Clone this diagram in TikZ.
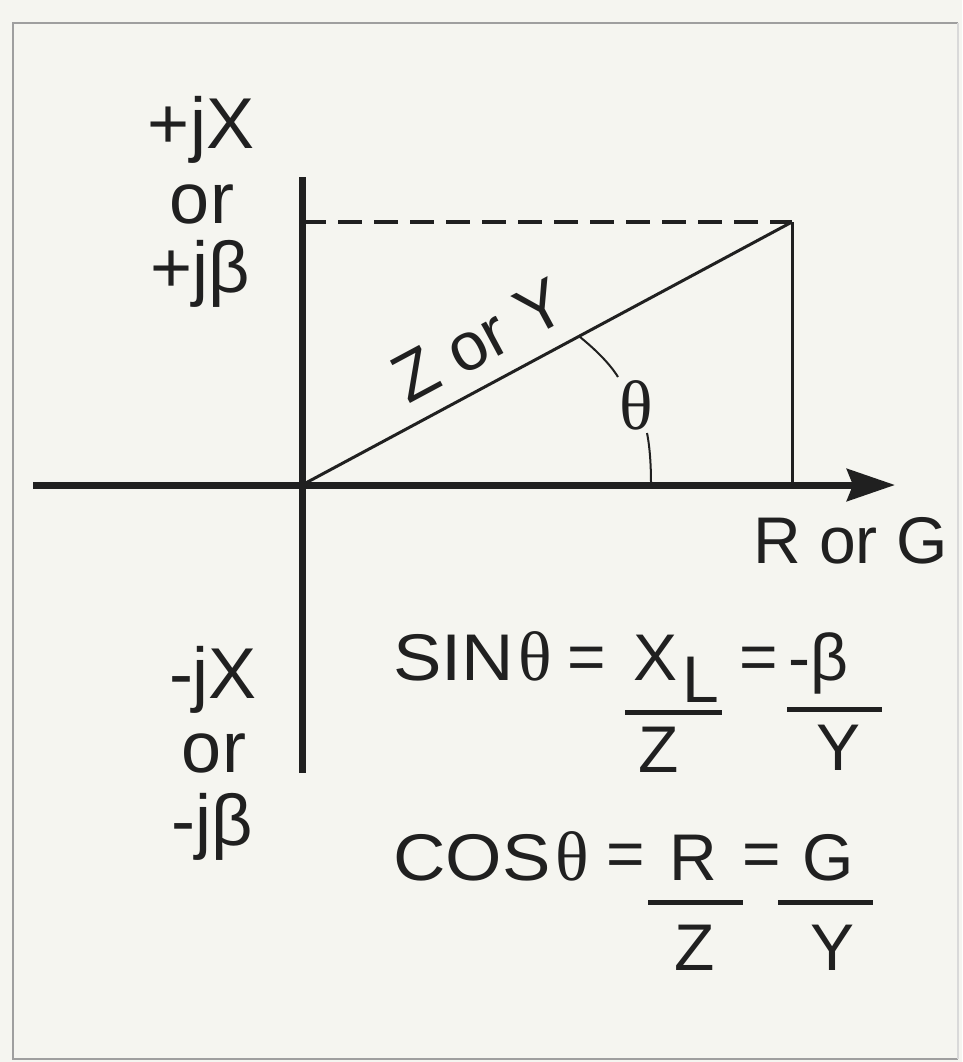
\documentclass[tikz,border=0pt]{standalone}
\usepackage{fontspec}
\setmainfont{Liberation Sans}
\newfontfamily\thetafont{Liberation Serif}
\usetikzlibrary{arrows.meta}
\definecolor{paper}{RGB}{245,245,240}
\definecolor{ink}{RGB}{32,32,32}
\newcommand{\hwide}[1]{\scalebox{1.1}[1.0]{#1}}
\begin{document}
\begin{tikzpicture}[x=1pt,y=-1pt,
  lbl/.style={font=\fontsize{72}{72}\selectfont, text=ink, inner sep=0pt},
  eq/.style={font=\fontsize{66}{66}\selectfont, text=ink, inner sep=0pt},
  eqth/.style={font=\thetafont\fontsize{70}{70}\selectfont, text=ink, inner sep=0pt},
  axisline/.style={draw=ink, line width=7pt},
  thinline/.style={draw=ink, line width=3pt},
  arcline/.style={draw=ink, line width=2pt},
  fracbar/.style={draw=ink, line width=5pt},
]
\useasboundingbox (0,0) rectangle (962,1062);
\fill[paper] (0,0) rectangle (962,1062);
% frame
\draw[gray!75, line width=2.5pt] (958,23) -- (13,23) -- (13,1059) -- (958,1059);
\draw[gray!30, line width=2pt] (958,23) -- (958,1059);

% coordinates
\coordinate (O) at (302,485);
\coordinate (xleft) at (33,485);
\coordinate (xright) at (895,485);
\coordinate (ytop) at (302,177);
\coordinate (ybot) at (302,773);
\coordinate (P) at (792,222);
\coordinate (Px) at (792,485);
\coordinate (Py) at (302,222);

% axes
\draw[axisline] (ytop) -- (ybot);
\draw[axisline, -{Stealth[length=48pt,width=32pt,inset=6pt]}] (xleft) -- (xright);
% rectangle parts
\draw[ink, line width=4pt, dash pattern=on 24pt off 12pt] (Py) -- (P);
\draw[thinline] (P) -- (Px);
\draw[thinline] (O) -- (P);
% angle arc
\coordinate (a1) at (580,337);
\coordinate (a2) at (618,377);
\coordinate (a3) at (647,433);
\coordinate (a4) at (651,484);
\draw[arcline] (a1) .. controls (596,350) and (610,364) .. (a2);
\draw[arcline] (a3) .. controls (650,448) and (651,466) .. (a4);
\node[eqth] (th) at (636,405) {θ};

% hypotenuse label
\node[font=\fontsize{68}{68}\selectfont, text=ink, inner sep=0pt, anchor=base, rotate=28.2] (zy) at (490,361) {Z or Y};

% axis labels
\node[eq, anchor=base west] (rg) at (753,563) {R or G};
\node[lbl, anchor=base] (pjx) at (201,148) {+jX};
\node[lbl, anchor=base] (or1) at (202,223) {or};
\node[lbl, anchor=base] (pjb) at (200,292) {+jβ};
\node[lbl, anchor=base] (mjx) at (213,698) {-jX};
\node[lbl, anchor=base] (or2) at (214,772) {or};
\node[lbl, anchor=base] (mjb) at (212,845) {-jβ};

% sine line
\node[eq, anchor=base west] (sin) at (393,680) {\hwide{SIN}};
\node[eqth, anchor=base west] (sinth) at (518,680) {θ};
\node[eq] (eqa) at (587,663) {=};
\node[eq, anchor=base west] (xnum) at (633,680) {X};
\node[eq, anchor=base west] (lsub) at (682,702) {L};
\draw[fracbar] (625,712) -- (722,712);
\node[eq, anchor=base] (zden1) at (659,772) {Z};
\node[eq] (eqb) at (759,663) {=};
\node[eq, anchor=base west] (mbeta) at (788,680) {-β};
\draw[fracbar] (787,709) -- (882,709);
\node[eq, anchor=base] (yden1) at (838,770) {Y};

% cosine line
\node[eq, anchor=base west] (cos) at (393,880) {\hwide{COS}};
\node[eqth, anchor=base west] (costh) at (555,880) {θ};
\node[eq] (eqc) at (626,860) {=};
\node[eq, anchor=base] (rnum) at (693,880) {R};
\draw[fracbar] (648,902) -- (743,902);
\node[eq, anchor=base] (zden2) at (695,970) {Z};
\node[eq] (eqd) at (762,860) {=};
\node[eq, anchor=base] (gnum) at (828,880) {G};
\draw[fracbar] (778,902) -- (873,902);
\node[eq, anchor=base] (yden2) at (832,970) {Y};
\end{tikzpicture}
\end{document}
